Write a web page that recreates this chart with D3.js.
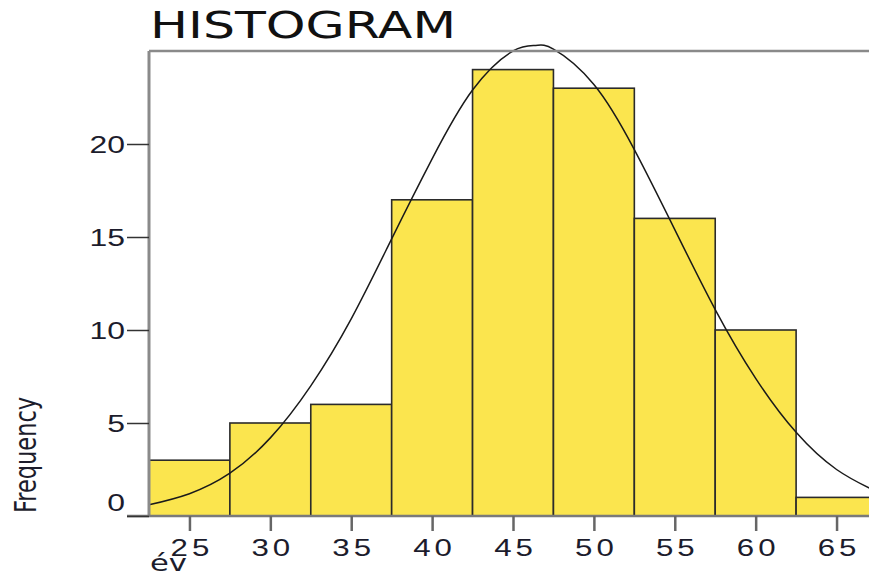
<!DOCTYPE html>
<html>
<head>
<meta charset="utf-8">
<script src="https://cdn.jsdelivr.net/npm/d3@7"></script>
<style>
  body { margin: 0; background: #fff; }
  svg { display: block; font-family: "DejaVu Sans", sans-serif; }
</style>
</head>
<body>
<svg width="869" height="572"></svg>
<script>
// bins of "év" (age), width 5
const binStarts = [22.5, 27.5, 32.5, 37.5, 42.5, 47.5, 52.5, 57.5, 62.5];
const frequencies = [3, 5, 6, 17, 24, 23, 16, 10, 1];
const xTicks = [25, 30, 35, 40, 45, 50, 55, 60, 65];
const yTicks = [0, 5, 10, 15, 20];
// normal curve, heights
const curveX = [22.5, 25, 27.5, 30, 32.5, 35, 37.5, 40, 42.5, 45, 46.4, 47.5, 50, 52.5, 55, 57.5, 60, 62.5, 65, 67.5];
const curveY = [0.6, 1.2, 2.3, 4.2, 7.0, 10.6, 14.9, 19.2, 22.9, 25.0, 25.3, 25.1, 23.2, 19.7, 15.4, 11.1, 7.4, 4.5, 2.5, 1.3];

const binWidth = 5;
const stretch = 1.33; // text in the original is wide

let svg = d3.select("svg");

let x = d3.scaleLinear().domain([22.5, 67.5]).range([149, 877]);
let y = d3.scaleLinear().domain([0, 25]).range([516, 51]);

// bars
svg.append("g")
  .selectAll("rect")
  .data(binStarts)
  .enter()
  .append("rect")
  .attr("x", d => x(d))
  .attr("y", (d, i) => y(frequencies[i]))
  .attr("width", d => x(d + binWidth) - x(d))
  .attr("height", (d, i) => y(0) - y(frequencies[i]))
  .attr("fill", "#fbe54e")
  .attr("stroke", "#2b2b2b")
  .attr("stroke-width", 1.6);

// fitted curve
let line = d3.line()
  .x(d => x(d[0]))
  .y(d => y(d[1]))
  .curve(d3.curveNatural);
svg.append("path")
  .datum(curveX.map((v, i) => [v, curveY[i]]))
  .attr("d", line)
  .attr("fill", "none")
  .attr("stroke", "#1a1a1a")
  .attr("stroke-width", 1.5);

// frame lines
svg.append("line")
  .attr("x1", x(22.5)).attr("x2", 869)
  .attr("y1", y(25)).attr("y2", y(25))
  .attr("stroke", "#8a8a8a").attr("stroke-width", 2.5);
svg.append("line")
  .attr("x1", x(22.5)).attr("x2", x(22.5))
  .attr("y1", y(25)).attr("y2", y(0))
  .attr("stroke", "#8a8a8a").attr("stroke-width", 3);
svg.append("line")
  .attr("x1", 127).attr("x2", 869)
  .attr("y1", y(0)).attr("y2", y(0))
  .attr("stroke", "#7a7a7a").attr("stroke-width", 2.5);

// y axis
let yAxis = d3.axisLeft(y).tickValues(yTicks).tickSize(22).tickPadding(0).tickSizeOuter(0);
let gy = svg.append("g").attr("transform", "translate(" + x(22.5) + ",0)").call(yAxis);
gy.select(".domain").remove();
gy.selectAll(".tick line").attr("stroke", "#333").attr("stroke-width", 1.5);
gy.selectAll(".tick text")
  .attr("x", null).attr("dy", null)
  .attr("fill", "#1c1c2c")
  .style("font-size", "24px")
  .attr("transform", d => "translate(-24," + (d === 0 ? -6 : 8) + ") scale(" + stretch + ",1)");

// x axis
let xAxis = d3.axisBottom(x).tickValues(xTicks).tickSize(15).tickPadding(0).tickSizeOuter(0);
let gx = svg.append("g").attr("transform", "translate(0," + y(0) + ")").call(xAxis);
gx.select(".domain").remove();
gx.selectAll(".tick line").attr("stroke", "#666").attr("stroke-width", 2.5);
gx.selectAll(".tick text")
  .attr("y", null).attr("dy", null)
  .attr("fill", "#1c1c2c")
  .style("font-size", "23.5px")
  .style("letter-spacing", "3px")
  .attr("transform", "translate(2,40) scale(" + stretch + ",1)");

// title
svg.append("text")
  .attr("transform", "translate(150,38) scale(" + stretch + ",1)")
  .style("font-size", "38px")
  .attr("fill", "#111")
  .text("HISTOGRAM");

// axis titles
svg.append("text")
  .attr("transform", "translate(36,455) scale(" + stretch + ",1) rotate(-90)")
  .attr("text-anchor", "middle")
  .style("font-size", "22.5px")
  .attr("fill", "#1c1c2c")
  .text("Frequency");

svg.append("text")
  .attr("transform", "translate(150,571) scale(" + stretch + ",1)")
  .style("font-size", "23px")
  .attr("fill", "#1c1c2c")
  .text("év");
</script>
</body>
</html>
